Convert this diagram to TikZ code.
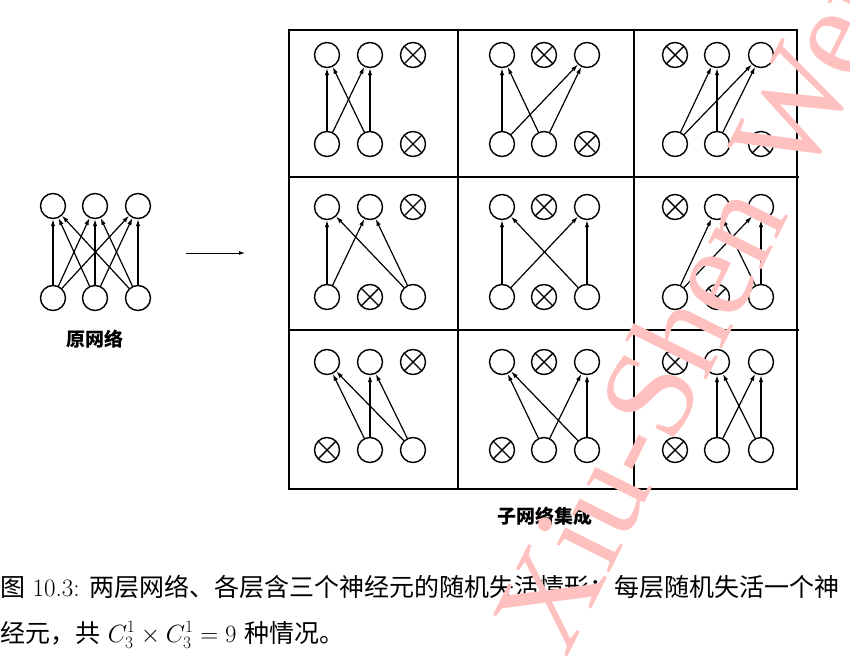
\documentclass[tikz,border=0pt]{standalone}
\usepackage{fontspec}
\newfontfamily\cjk{Noto Sans CJK SC}
\newfontfamily\wmfont{Liberation Serif}
\usetikzlibrary{arrows.meta}
\definecolor{wmpink}{RGB}{255,192,192}

\begin{document}
\begin{tikzpicture}[x=1pt,y=-1pt,
  neuron/.style={draw,circle,line width=1.4pt,minimum size=25pt,inner sep=0pt},
  dropped/.style={neuron,path picture={\draw[line width=1.4pt]
      (path picture bounding box.north west)--(path picture bounding box.south east)
      (path picture bounding box.north east)--(path picture bounding box.south west);}},
  conn/.style={line width=1.2pt,-{Latex[length=7pt,width=4.5pt]}},
  lbl/.style={font=\cjk\bfseries\fontsize{19}{22}\selectfont,inner sep=0pt},
  capt/.style={font=\fontsize{25}{30}\selectfont,anchor=base west,inner sep=0pt}]
  \useasboundingbox (0,0) rectangle (850,658);

  % original network
  \foreach \i/\x in {1/53,2/95,3/138}{
    \node[neuron] (ot\i) at (\x,206) {};
    \node[neuron] (ob\i) at (\x,298) {};
  }
  \foreach \i in {1,2,3}
    \foreach \j in {1,2,3}
      \draw[conn] (ob\i) -- (ot\j);
  \node[lbl] (orig) at (95,339) {原网络};

  \coordinate (arrS) at (186,253);
  \coordinate (arrE) at (245,253);
  \draw[line width=1pt,-{Latex[length=6pt,width=4pt]}] (arrS) -- (arrE);

  % sub-networks
  \draw[line width=1.5pt] (289,30) rectangle (797,489);
  \draw[line width=1.5pt] (458,30) -- (458,489) (634,30) -- (634,489)
    (289,177) -- (799,177) (289,330) -- (799,330);
  \foreach \r/\ty/\by in {1/55/144,2/207/297,3/362/450}{
    \foreach \c/\xa/\xb/\xc in {1/327/370/413,2/502/544/587,3/675/717/761}{
      \pgfmathtruncatemacro\dt{4-\c}
      \pgfmathtruncatemacro\db{4-\r}
      \foreach \i/\x in {1/\xa,2/\xb,3/\xc}{
        \ifnum\i=\dt \node[dropped] (t\r\c\i) at (\x,\ty) {};
        \else \node[neuron] (t\r\c\i) at (\x,\ty) {}; \fi
        \ifnum\i=\db \node[dropped] (b\r\c\i) at (\x,\by) {};
        \else \node[neuron] (b\r\c\i) at (\x,\by) {}; \fi
      }
      \foreach \i in {1,2,3}
        \foreach \j in {1,2,3}{
          \ifnum\i=\db\else\ifnum\j=\dt\else
            \draw[conn] (b\r\c\i) -- (t\r\c\j);
          \fi\fi
        }
    }
  }
  \node[lbl] (ens) at (545,516) {子网络集成};

  % caption
  \node[capt] (cap1) at (0,596.5)
    {{\cjk 图} 10.3: {\cjk 两层网络、各层含三个神经元的随机失活情形：每层随机失活一个神}};
  \node[capt] (cap2) at (0,642)
    {{\cjk 经元，共} $C_3^1\times C_3^1=9$ {\cjk 种情况。}};

  % watermark
  \begin{scope}
    \clip (0,0) rectangle (850,658);
    \node[anchor=base west,rotate=63.4,inner sep=0pt,text=wmpink,
      font=\wmfont\fontsize{130}{134}\selectfont] (wm) at (566,660) {Xiu-Shen Wei};
  \end{scope}
\end{tikzpicture}
\end{document}
